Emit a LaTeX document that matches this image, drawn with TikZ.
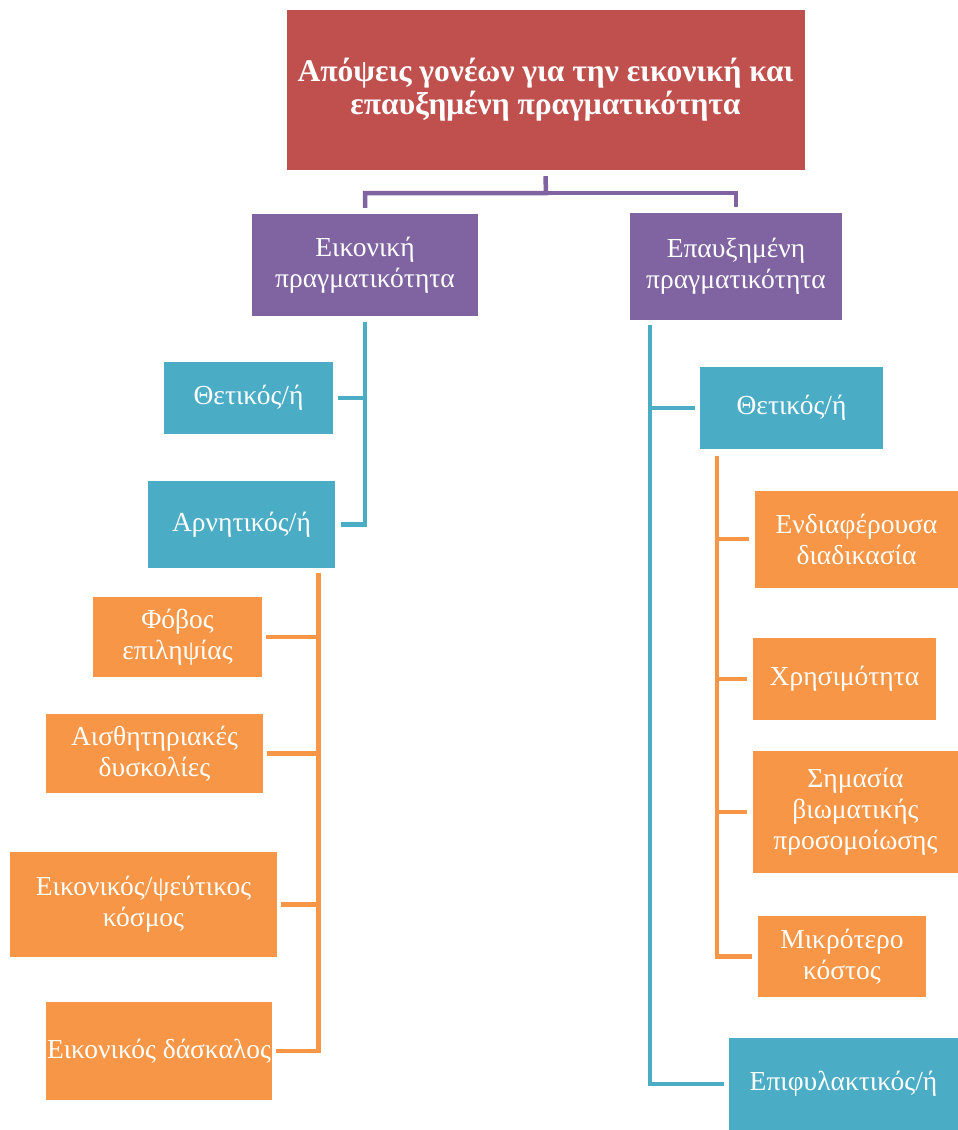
\documentclass[tikz,border=0pt]{standalone}
\usepackage{fontspec}
\setmainfont{Liberation Serif}
\definecolor{redbox}{HTML}{C0504D}
\definecolor{purplebox}{HTML}{8064A2}
\definecolor{tealbox}{HTML}{4BACC6}
\definecolor{orangebox}{HTML}{F79646}
\begin{document}
\begin{tikzpicture}[x=1pt,y=-1pt,
  box/.style={rectangle, inner sep=0pt, text=white, align=center,
    font=\fontsize{27.5}{31}\selectfont},
  purple/.style={box, fill=purplebox},
  teal/.style={box, fill=tealbox},
  orange/.style={box, fill=orangebox},
  pline/.style={draw=purplebox, line width=4.5pt},
  tline/.style={draw=tealbox, line width=4.5pt},
  oline/.style={draw=orangebox, line width=4.5pt}]
\useasboundingbox (0,0) rectangle (958,1130);

\node [box, fill=redbox, minimum width=518pt, minimum height=160pt,
  font=\fontsize{31.5}{33}\selectfont\bfseries] (title) at (545.5,90)
  {Απόψεις γονέων για την εικονική και\\επαυξημένη πραγματικότητα};

\node [purple, minimum width=226pt, minimum height=102pt] (vr) at (365,265) {Εικονική\\πραγματικότητα};
\node [purple, minimum width=212pt, minimum height=107pt] (ar) at (736,266.5) {Επαυξημένη\\πραγματικότητα};

% virtual reality side
\node [teal, minimum width=169pt, minimum height=72pt] (vpos) at (248.5,398) {Θετικός/ή};
\node [teal, minimum width=187pt, minimum height=87pt] (vneg) at (241.5,524.5) {Αρνητικός/ή};
\node [orange, minimum width=169pt, minimum height=80pt] (fob) at (177.5,637) {Φόβος\\επιληψίας};
\node [orange, minimum width=217pt, minimum height=79pt] (aisth) at (154.5,753.5) {Αισθητηριακές\\δυσκολίες};
\node [orange, minimum width=267pt, minimum height=105pt] (fake) at (143.5,904.5) {Εικονικός/ψεύτικος\\κόσμος};
\node [orange, minimum width=226pt, minimum height=98pt] (teach) at (159,1051) {Εικονικός δάσκαλος};

% augmented reality side
\node [teal, minimum width=183pt, minimum height=82pt] (apos) at (791.5,408) {Θετικός/ή};
\node [orange, minimum width=203pt, minimum height=97pt] (inter) at (856.5,539) {Ενδιαφέρουσα\\διαδικασία};
\node [orange, minimum width=183pt, minimum height=82pt] (use) at (844.5,679) {Χρησιμότητα};
\node [orange, minimum width=205pt, minimum height=122pt] (sim) at (855.5,812) {Σημασία\\βιωματικής\\προσομοίωσης};
\node [orange, minimum width=168pt, minimum height=81pt] (cost) at (842,956.5) {Μικρότερο\\κόστος};
\node [teal, minimum width=229pt, minimum height=93pt] (caut) at (843.5,1084) {Επιφυλακτικός/ή};

% connectors
\coordinate (hub) at (546,193);
\draw [pline] ([yshift=-6pt]title.south) -- (hub) -| ([yshift=6pt]vr.north);
\draw [pline] (hub) -| ([yshift=6pt]ar.north);

\draw [tline] ([yshift=-6pt]vr.south) |- ([xshift=6pt]vneg.east);
\draw [tline] ([xshift=5pt]vpos.east) -- (vpos.east -| vr.south);

\coordinate (vo) at ([xshift=77pt,yshift=-5pt]vneg.south);
\draw [oline] (vo) |- ([xshift=4pt]teach.east);
\foreach \n in {fob,aisth,fake}
  \draw [oline] ([xshift=4pt]\n.east) -- (\n.east -| vo);

\coordinate (at) at ([xshift=20pt,yshift=-5pt]ar.south west);
\draw [tline] (at) |- ([xshift=-5pt]caut.west);
\draw [tline] ([xshift=-5pt]apos.west) -- (apos.west -| at);

\coordinate (ao) at ([xshift=17pt,yshift=-7pt]apos.south west);
\draw [oline] (ao) |- ([xshift=-6pt]cost.west);
\foreach \n in {inter,use,sim}
  \draw [oline] ([xshift=-6pt]\n.west) -- (\n.west -| ao);
\end{tikzpicture}
\end{document}
